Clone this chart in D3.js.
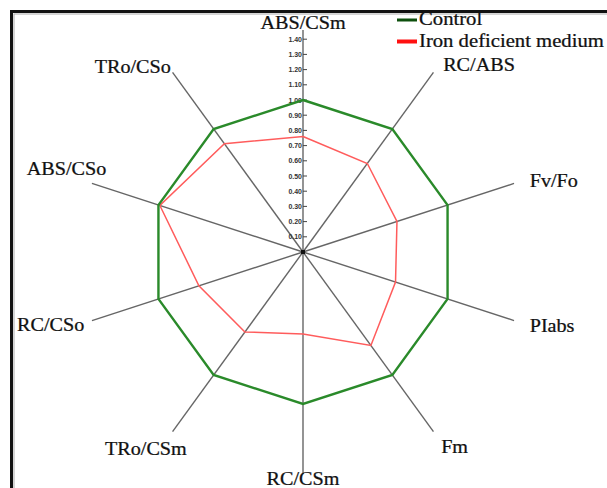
<!DOCTYPE html>
<html>
<head>
<meta charset="utf-8">
<script src="https://cdn.jsdelivr.net/npm/d3@7/dist/d3.min.js"></script>
<style>
  html, body { margin: 0; padding: 0; background: #fff; }
  svg { display: block; }
</style>
</head>
<body>
<svg id="chart" width="607" height="488"></svg>
<script>
// Parameters (clockwise from the top)
const parameters = ["ABS/CSm", "RC/ABS", "Fv/Fo", "PIabs", "Fm", "RC/CSm", "TRo/CSm", "RC/CSo", "ABS/CSo", "TRo/CSo"];
// Values relative to control
const controlValues = [1.00, 1.00, 1.00, 1.00, 1.00, 1.00, 1.00, 1.00, 1.00, 1.00];
const ironDeficientValues = [0.76, 0.72, 0.65, 0.64, 0.76, 0.54, 0.65, 0.72, 0.99, 0.88];
const seriesNames = ["Control", "Iron deficient medium"];
const tickLabels = ["0.10", "0.20", "0.30", "0.40", "0.50", "0.60", "0.70", "0.80", "0.90", "1.00", "1.10", "1.20", "1.30", "1.40"];

const svg = d3.select("#chart");
const cx = 303, cy = 252;
const serif = "'Liberation Serif', 'Times New Roman', serif";

// Radial scale: 1.0 maps to 152 px
const r = d3.scaleLinear().domain([0, 1]).range([0, 152]);
const axisEnd = 1.46;
const angle = d3.scaleLinear().domain([0, parameters.length]).range([0, 2 * Math.PI]);
const pt = (i, v) => [cx + r(v) * Math.sin(angle(i)), cy - r(v) * Math.cos(angle(i))];

// Frame
svg.append("rect").attr("x", 11.5).attr("y", 11.5).attr("width", 640).attr("height", 520)
  .attr("fill", "none").attr("stroke", "#111").attr("stroke-width", 3);
svg.append("rect").attr("x", 14).attr("y", 14).attr("width", 640).attr("height", 520)
  .attr("fill", "none").attr("stroke", "#aaa").attr("stroke-width", 1);

// Spokes
svg.append("g").selectAll("line").data(parameters).join("line")
  .attr("x1", cx).attr("y1", cy)
  .attr("x2", (d, i) => pt(i, axisEnd)[0])
  .attr("y2", (d, i) => pt(i, axisEnd)[1])
  .attr("stroke", "#666").attr("stroke-width", 1.4);

// Tick marks and labels on the vertical axis
const tickVals = tickLabels.map(Number);
const ticks = svg.append("g");
ticks.selectAll("line").data(tickVals).join("line")
  .attr("x1", cx).attr("x2", cx + 4)
  .attr("y1", d => cy - r(d)).attr("y2", d => cy - r(d))
  .attr("stroke", "#444").attr("stroke-width", 1);
ticks.selectAll("text").data(tickLabels).join("text")
  .attr("x", cx - 1).attr("y", d => cy - r(+d) + 2.5)
  .attr("text-anchor", "end")
  .attr("font-family", "Arial, 'Liberation Sans', sans-serif")
  .attr("font-size", 7).attr("font-weight", "bold").attr("fill", "#333")
  .text(d => d);

// Series polygons
const line = d3.line().curve(d3.curveLinearClosed);
svg.append("path")
  .attr("d", line(ironDeficientValues.map((v, i) => pt(i, v))))
  .attr("fill", "none").attr("stroke", "#ff5c5c").attr("stroke-width", 1.5);
svg.append("path")
  .attr("d", line(controlValues.map((v, i) => pt(i, v))))
  .attr("fill", "none").attr("stroke", "#2a8a2a").attr("stroke-width", 2.4);

// Centre dot
svg.append("rect").attr("x", cx - 2).attr("y", cy - 2).attr("width", 4).attr("height", 4).attr("fill", "#111");

// Parameter labels: offset from spoke end, anchor
const labelLayout = [
  [0, 7, "middle"], [5, 5, "start"], [8, 6, "start"], [8, 9, "start"], [3, 15, "start"],
  [0, 3, "middle"], [-22, 17, "middle"], [0, 8, "end"], [22, -6, "end"], [3, 7, "end"]
];
const labelR = axisEnd * 152 + 8;
svg.append("g").selectAll("text").data(parameters).join("text")
  .attr("transform", (d, i) => {
    const x = cx + labelR * Math.sin(angle(i)) + labelLayout[i][0];
    const y = cy - labelR * Math.cos(angle(i)) + labelLayout[i][1];
    return `translate(${x},${y}) scale(1.12,1)`;
  })
  .attr("text-anchor", (d, i) => labelLayout[i][2])
  .attr("font-family", serif).attr("font-size", 18).attr("fill", "#111")
  .attr("stroke", "#111").attr("stroke-width", 0.25)
  .text(d => d);

// Legend
const legendColors = ["#0d4f0d", "#ff1010"];
const legendWidths = [3, 4];
const legend = svg.append("g");
seriesNames.forEach((name, i) => {
  const y = 20 + i * 21.5;
  legend.append("line").attr("x1", 397).attr("x2", 417).attr("y1", y).attr("y2", y)
    .attr("stroke", legendColors[i]).attr("stroke-width", legendWidths[i]);
  legend.append("text")
    .attr("transform", `translate(419,${y + 5}) scale(1.15,1)`)
    .attr("font-family", serif).attr("font-size", 18).attr("fill", "#111")
    .attr("stroke", "#111").attr("stroke-width", 0.25)
    .text(name);
});
</script>
</body>
</html>
